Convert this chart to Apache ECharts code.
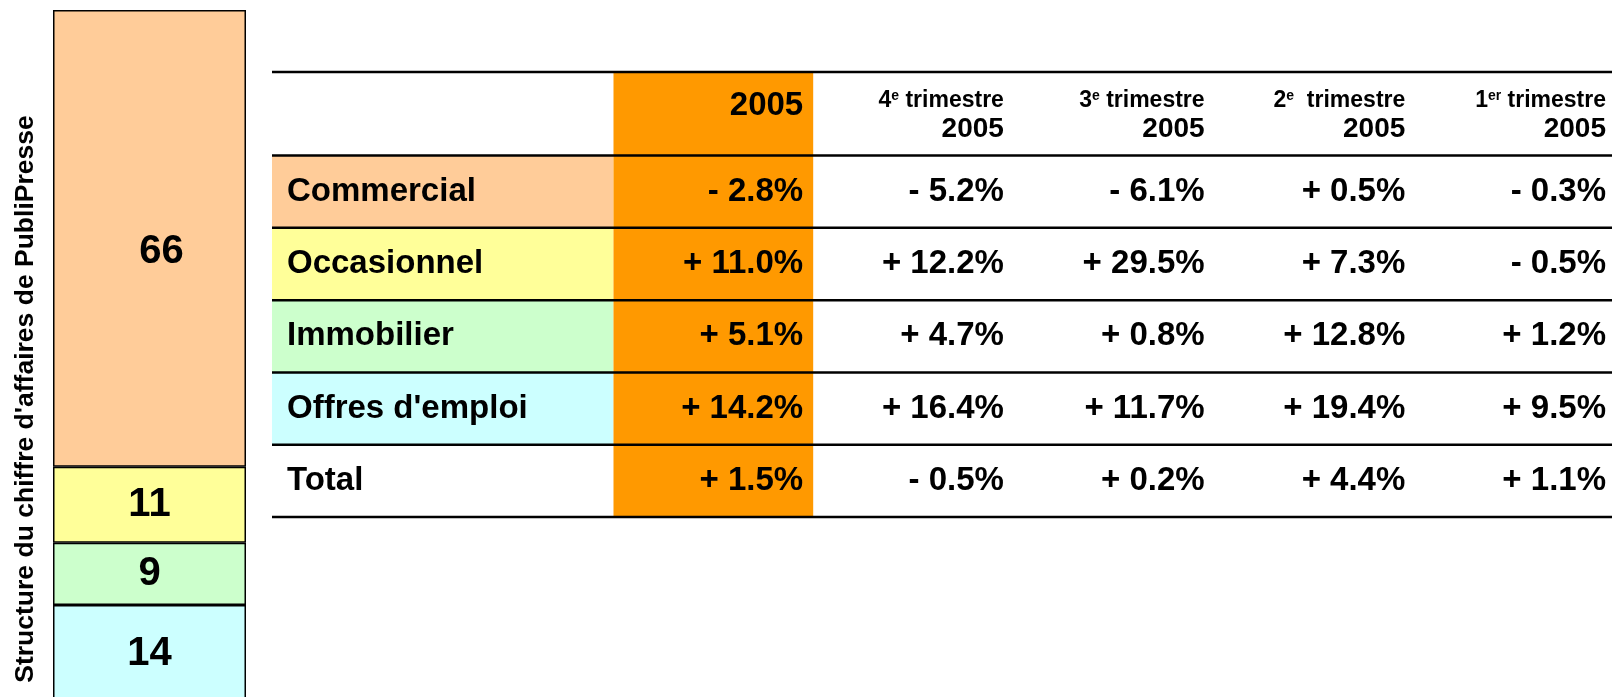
<!DOCTYPE html>
<html>
<head>
<meta charset="utf-8">
<script src="https://cdn.jsdelivr.net/npm/echarts@6/dist/echarts.min.js"></script>
<style>
html,body{margin:0;padding:0;background:#fff;}
#main{width:1612px;height:697px;}
</style>
</head>
<body>
<div id="main"></div>
<script>
// structure du chiffre d'affaires (en %)
var segments = ['Commercial', 'Occasionnel', 'Immobilier', "Offres d'emploi"];
var shares = [66, 11, 9, 14];

// evolution du CA par categorie
var rowLabels = ['Commercial', 'Occasionnel', 'Immobilier', "Offres d'emploi", 'Total'];
var yearLabel = '2005';
var quarterNums = ['4', '3', '2', '1'];
var quarterSups = ['e', 'e', 'e', 'er'];
var growth2005 = [-2.8, 11.0, 5.1, 14.2, 1.5];
var growthQ4 = [-5.2, 12.2, 4.7, 16.4, -0.5];
var growthQ3 = [-6.1, 29.5, 0.8, 11.7, 0.2];
var growthQ2 = [0.5, 7.3, 12.8, 19.4, 4.4];
var growthQ1 = [-0.3, -0.5, 1.2, 9.5, 1.1];

var segColors = ['#FFCC99', '#FFFF99', '#CCFFCC', '#CCFFFF'];
var yearColor = '#FF9900';
var FONT = 'Liberation Sans, Arial, sans-serif';

var valueCols = [growth2005, growthQ4, growthQ3, growthQ2, growthQ1];
// table layout in column / row units
var X_MIN = -1.71, X_MAX = 5;
var Y_MIN = -1.156, Y_MAX = 5;

function fmt(v) {
	return (v < 0 ? '- ' : '+ ') + Math.abs(v).toFixed(1) + '%';
}

var cells = [];
for (var r = -1; r < rowLabels.length; r++) {
	for (var c = -1; c < valueCols.length; c++) {
		cells.push([c, r]);
	}
}
var boundaries = [-1, 0, 1, 2, 3, 4, 5];

function renderCell(params, api) {
	var c = api.value(0), r = api.value(1);
	var x0 = c < 0 ? X_MIN : c, x1 = c < 0 ? 0 : c + 1;
	var y0 = r < 0 ? Y_MIN : r, y1 = r < 0 ? 0 : r + 1;
	var p0 = api.coord([x0, y0]), p1 = api.coord([x1, y1]);
	var children = [];
	var fill = null;
	if (c === 0) fill = yearColor;
	else if (c < 0 && r >= 0 && r < segColors.length) fill = segColors[r];
	if (fill) {
		children.push({
			type: 'rect',
			shape: {x: p0[0], y: p0[1], width: p1[0] - p0[0], height: p1[1] - p0[1]},
			style: {fill: fill}
		});
	}
	var cy = (p0[1] + p1[1]) / 2;
	var pad = 10 - c;
	if (r < 0) {
		if (c === 0) {
			children.push({
				type: 'text', x: p1[0] - pad, y: cy - 8,
				style: {text: yearLabel, fill: '#000', font: 'bold 33px ' + FONT, align: 'right', verticalAlign: 'middle'}
			});
		} else if (c > 0) {
			var q = c - 1;
			var gap = q === 2 ? '  ' : ' ';
			children.push({
				type: 'text', x: p1[0] - pad, y: cy + 3,
				style: {
					text: '{n|' + quarterNums[q] + '}{s|' + quarterSups[q] + '}{t|' + gap + 'trimestre}\n{y|' + yearLabel + '}',
					align: 'right', verticalAlign: 'middle', fill: '#000',
					rich: {
						n: {fontSize: 23, fontWeight: 'bold', fontFamily: FONT, lineHeight: 24, align: 'right', fill: '#000'},
						s: {fontSize: 14, fontWeight: 'bold', fontFamily: FONT, verticalAlign: 'top', align: 'right', fill: '#000'},
						t: {fontSize: 23, fontWeight: 'bold', fontFamily: FONT, lineHeight: 24, align: 'right', fill: '#000'},
						y: {fontSize: 28, fontWeight: 'bold', fontFamily: FONT, lineHeight: 32, align: 'right', fill: '#000'}
					}
				}
			});
		}
	} else if (c < 0) {
		children.push({
			type: 'text', x: p0[0] + 15, y: cy,
			style: {text: rowLabels[r], fill: '#000', font: 'bold 33px ' + FONT, align: 'left', verticalAlign: 'middle'}
		});
	} else {
		children.push({
			type: 'text', x: p1[0] - pad, y: cy,
			style: {text: fmt(valueCols[c][r]), fill: '#000', font: 'bold 33px ' + FONT, align: 'right', verticalAlign: 'middle'}
		});
	}
	return {type: 'group', children: children};
}

function renderRule(params, api) {
	var b = api.value(0);
	var y = b < 0 ? Y_MIN : b;
	var p0 = api.coord([X_MIN, y]), p1 = api.coord([X_MAX, y]);
	return {
		type: 'line',
		shape: {x1: p0[0], y1: p0[1], x2: p1[0], y2: p1[1]},
		style: {stroke: '#000', lineWidth: 2.5}
	};
}

var barSeries = [];
for (var i = segments.length - 1; i >= 0; i--) {
	barSeries.push({
		type: 'bar', name: segments[i], stack: 'ca',
		xAxisIndex: 0, yAxisIndex: 0,
		data: [shares[i]], barWidth: '100%',
		itemStyle: {color: segColors[i], borderColor: '#000', borderWidth: 1.5},
		label: {
			show: true, position: 'inside', color: '#000',
			fontSize: 40, fontWeight: 'bold', fontFamily: FONT,
			offset: i === 0 ? [12, 14] : [0, 0]
		}
	});
}

var chart = echarts.init(document.getElementById('main'));
chart.setOption({
	animation: false,
	backgroundColor: '#fff',
	grid: [
		{left: 53, top: 10, width: 193, height: 692, outerBoundsMode: 'none'},
		{left: 272, right: 0, top: 72, height: 445, outerBoundsMode: 'none'}
	],
	xAxis: [
		{gridIndex: 0, type: 'category', data: ['CA'], show: false},
		{gridIndex: 1, type: 'value', min: X_MIN, max: X_MAX, show: false}
	],
	yAxis: [
		{
			gridIndex: 0, type: 'value', min: 0, max: 100,
			axisLine: {show: false}, axisTick: {show: false}, axisLabel: {show: false}, splitLine: {show: false},
			name: "Structure du chiffre d'affaires de PubliPresse",
			nameLocation: 'middle', nameRotate: 90, nameGap: 14,
			nameTextStyle: {fontSize: 26.5, fontWeight: 'bold', color: '#000', fontFamily: FONT, padding: [0, 86, 0, 0]}
		},
		{gridIndex: 1, type: 'value', inverse: true, min: Y_MIN, max: Y_MAX, show: false}
	],
	series: barSeries.concat([
		{
			type: 'custom', coordinateSystem: 'cartesian2d', xAxisIndex: 1, yAxisIndex: 1,
			data: cells, renderItem: renderCell, clip: false, silent: true, z: 2
		},
		{
			type: 'custom', coordinateSystem: 'cartesian2d', xAxisIndex: 1, yAxisIndex: 1,
			data: boundaries.map(function (b) { return [b]; }),
			encode: {y: 0}, renderItem: renderRule, clip: false, silent: true, z: 5
		}
	])
});
</script>
</body>
</html>
